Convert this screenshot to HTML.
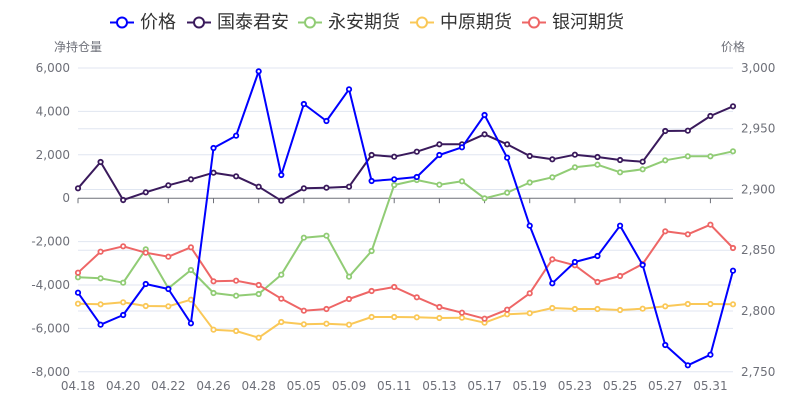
<!DOCTYPE html>
<html><head><meta charset="utf-8"><style>
html,body{margin:0;padding:0;background:#fff;}
svg{display:block;}
text{font-family:"DejaVu Sans","Liberation Sans","Noto Sans CJK SC",sans-serif;}
</style></head><body>
<svg id="c" width="800" height="400" xmlns="http://www.w3.org/2000/svg"></svg>
<script>
const svg=document.getElementById('c');
const NS='http://www.w3.org/2000/svg';
function el(t,a,txt){const e=document.createElementNS(NS,t);for(const k in a)e.setAttribute(k,a[k]);if(txt!==undefined)e.textContent=txt;svg.appendChild(e);return e;}
// gridlines
const gl=[68,111.4,154.8,241.6,285,328.4,371.8,128.7,189.5,250.2,311];
gl.forEach(y=>el('line',{x1:78,x2:733,y1:y,y2:y,stroke:'#E0E6F1','stroke-width':1}));
// left labels
const ll=[['6,000',68],['4,000',111.4],['2,000',154.8],['0',198.2],['-2,000',241.6],['-4,000',285],['-6,000',328.4],['-8,000',371.8]];
ll.forEach(([t,y])=>el('text',{x:70,y:y,'text-anchor':'end','dominant-baseline':'central','font-size':12,fill:'#6E7079'},t));
const rl=[['3,000',68],['2,950',128.7],['2,900',189.5],['2,850',250.2],['2,800',311],['2,750',371.8]];
rl.forEach(([t,y])=>el('text',{x:741,y:y,'text-anchor':'start','dominant-baseline':'central','font-size':12,fill:'#6E7079'},t));
el('text',{x:78,y:47,'text-anchor':'middle','dominant-baseline':'central','font-size':12,fill:'#6E7079'},'净持仓量');
el('text',{x:733,y:47,'text-anchor':'middle','dominant-baseline':'central','font-size':12,fill:'#6E7079'},'价格');
// x axis
el('line',{x1:78,x2:733,y1:198.2,y2:198.2,stroke:'#6E7079','stroke-width':1});
const X=i=>78+655/29*i;
const xl=['04.18','04.20','04.22','04.26','04.28','05.05','05.09','05.11','05.13','05.17','05.19','05.23','05.25','05.27','05.31'];
xl.forEach((t,k)=>{const x=X(2*k);el('line',{x1:x,x2:x,y1:198.2,y2:203.2,stroke:'#6E7079','stroke-width':1});el('text',{x:x,y:386,'text-anchor':'middle','dominant-baseline':'central','font-size':12,fill:'#6E7079'},t);});
// series
const S=[
['#0000FF',[292.7,324.7,315,284,289,323.3,148,135.7,71.3,175,104,121,89.3,181,179.3,177,155,147.3,115,157.7,225.7,283.3,262,256,225.7,265,345,365.3,354.7,270.7]],
['#3A1A5C',[188.3,162,200,192.3,185.3,179.3,172.7,176.3,186.7,200.7,188.3,187.7,186.7,155,156.7,151.7,144.3,144.3,134.3,144.3,156,159.3,154.7,157,160,161.7,131,130.7,116,106.3]],
['#91CC75',[277.3,278.3,282.7,249.3,288.3,270,293,295.7,294,274.7,237.7,235.7,276.7,251,185,180,184.7,181.3,198.3,192.7,182.5,177.3,167.3,164.7,172.3,169.3,160.3,156.3,156.3,151.3]],
['#FAC858',[303.7,304.3,302.3,306,306.3,299.7,329.7,331,337.7,322,324.3,323.7,324.7,317,317,317.3,318,317.7,322.7,314.3,313.2,308,309,309,310,308.7,306.3,304,304,304.3]],
['#EE6666',[272.7,251.7,246.3,252.7,256.7,247.3,281.3,280.7,285,298.7,310.7,309,299,291,287,297.3,307,312.7,318.7,309.7,293.3,259.3,265.3,282,276,264,231.3,234.3,224.7,248]]
];
const order=[1,2,3,4,0];
order.forEach(si=>{const [c,ys]=S[si];
 el('polyline',{points:ys.map((y,i)=>X(i).toFixed(2)+','+y).join(' '),fill:'none',stroke:c,'stroke-width':2,'stroke-linejoin':'round'});
 ys.forEach((y,i)=>el('circle',{cx:X(i),cy:y,r:2.2,fill:'#fff',stroke:c,'stroke-width':1.8}));
});
// legend
const L=[['价格','#0000FF',110],['国泰君安','#3A1A5C',187],['永安期货','#91CC75',298],['中原期货','#FAC858',410],['银河期货','#EE6666',522]];
L.forEach(([t,c,x])=>{
 el('line',{x1:x,x2:x+24,y1:22.5,y2:22.5,stroke:c,'stroke-width':2});
 el('circle',{cx:x+12,cy:22.5,r:5,fill:'#fff',stroke:c,'stroke-width':2});
 el('text',{x:x+30,y:22.5,'dominant-baseline':'central','font-size':18,fill:'#333','font-family':'"Noto Sans CJK SC",sans-serif'},t);
});
</script>
</body></html>
